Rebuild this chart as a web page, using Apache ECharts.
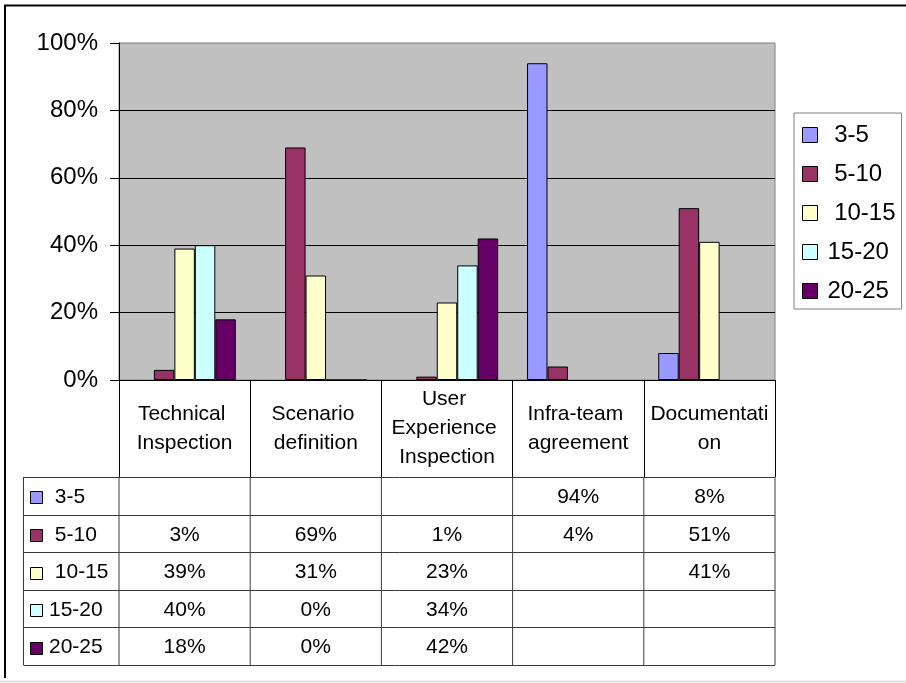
<!DOCTYPE html>
<html>
<head>
<meta charset="utf-8">
<script src="https://cdn.jsdelivr.net/npm/echarts@6/dist/echarts.min.js"></script>
<style>
  html, body { margin: 0; padding: 0; background: #fff; }
  #chart { width: 906px; height: 683px; }
</style>
</head>
<body>
<div id="chart"></div>
<script>
// Share of responses per activity, grouped by range
const categories = ['Technical Inspection', 'Scenario definition', 'User Experience Inspection', 'Infra-team agreement', 'Documentation'];
const seriesNames = [' 3-5', ' 5-10', ' 10-15', '15-20', '20-25'];
const range3to5 = [null, null, null, 94, 8];
const range5to10 = [3, 69, 1, 4, 51];
const range10to15 = [39, 31, 23, null, 41];
const range15to20 = [40, 0, 34, null, null];
const range20to25 = [18, 0, 42, null, null];
const yTicks = [0, 20, 40, 60, 80, 100];

const seriesValues = [range3to5, range5to10, range10to15, range15to20, range20to25];
const colors = ['#9999FF', '#993366', '#FFFFCC', '#CCFFFF', '#660066'];
const FONT = '"Liberation Sans", Arial, Helvetica, sans-serif';

const GRID = { left: 119, top: 43, width: 656, height: 337 };
const HEADER_H = 97;     // height of the category header row
const ROW_H = 37.6;      // height of each data row in the table
const TABLE_LEFT = 23.5;

const chart = echarts.init(document.getElementById('chart'), null, { renderer: 'canvas' });

chart.setOption({
  animation: false,
  backgroundColor: '#fff',
  color: colors,
  grid: {
    left: GRID.left, top: GRID.top, width: GRID.width, height: GRID.height,
    show: true, backgroundColor: '#C0C0C0', borderColor: '#808080', borderWidth: 1
  },
  legend: {
    orient: 'vertical', left: 794, top: 113,
    padding: [10, 6, 6, 8], itemGap: 15, itemWidth: 15, itemHeight: 15,
    backgroundColor: '#fff', borderColor: '#808080', borderWidth: 1,
    icon: 'rect',
    itemStyle: { borderColor: '#000', borderWidth: 1 },
    textStyle: { fontFamily: FONT, fontSize: 24, lineHeight: 24, color: '#000', padding: [0, 0, 0, 5] },
    data: seriesNames
  },
  xAxis: {
    type: 'category',
    data: categories,
    axisLine: { lineStyle: { color: '#000', width: 1 } },
    axisTick: { show: true, length: HEADER_H, lineStyle: { color: '#000', width: 1 } },
    axisLabel: {
      interval: 0, fontFamily: FONT, fontSize: 21, color: '#000',
      width: 128, overflow: 'break', lineHeight: 29,
      margin: HEADER_H / 2, verticalAlign: 'middle', align: 'center'
    }
  },
  yAxis: {
    type: 'value', min: yTicks[0], max: yTicks[yTicks.length - 1], interval: yTicks[1] - yTicks[0],
    axisLine: { show: true, lineStyle: { color: '#000', width: 1 } },
    axisTick: { show: true, length: 9, lineStyle: { color: '#000', width: 1 } },
    axisLabel: { formatter: '{value}%', fontFamily: FONT, fontSize: 24, color: '#000', margin: 21 },
    splitLine: { show: true, showMaxLine: false, lineStyle: { color: '#000', width: 1 } }
  },
  series: seriesNames.map((name, i) => ({
    name: name,
    type: 'bar',
    data: seriesValues[i],
    barGap: '0%',
    barCategoryGap: '22%',
    itemStyle: { color: colors[i], borderColor: '#000', borderWidth: 1 }
  }))
});

// Data table under the plot, laid out on the category axis
function buildTable() {
  const c0 = chart.convertToPixel({ xAxisIndex: 0 }, 0);
  const c1 = chart.convertToPixel({ xAxisIndex: 0 }, 1);
  const band = c1 - c0;
  const centers = categories.map((_, i) => chart.convertToPixel({ xAxisIndex: 0 }, i));
  const right = centers[centers.length - 1] + band / 2;
  const axisLeft = centers[0] - band / 2;
  const top = GRID.top + GRID.height + HEADER_H;
  const bottom = top + ROW_H * seriesNames.length;
  const lineColor = '#3a3a3a';
  const els = [];

  // horizontal rules
  for (let r = 0; r <= seriesNames.length; r++) {
    const y = Math.round(top + r * ROW_H) + 0.5;
    els.push({ type: 'line', shape: { x1: TABLE_LEFT, y1: y, x2: right, y2: y }, style: { stroke: lineColor, lineWidth: 1 } });
  }
  // vertical rules
  const xs = [TABLE_LEFT, axisLeft].concat(centers.map(c => c + band / 2));
  xs.forEach(x => {
    els.push({ type: 'line', shape: { x1: x, y1: top, x2: x, y2: bottom }, style: { stroke: lineColor, lineWidth: 1 } });
  });

  seriesNames.forEach((name, r) => {
    const cy = top + r * ROW_H + ROW_H / 2 + 1.5;
    els.push({ type: 'rect', shape: { x: 30.5, y: Math.round(cy - 6) + 0.5, width: 12, height: 12 }, style: { fill: colors[r], stroke: '#000', lineWidth: 1 } });
    els.push({ type: 'text', x: 49, y: cy, style: { text: name, font: '21px ' + FONT, fill: '#000', verticalAlign: 'middle', align: 'left' } });
    seriesValues[r].forEach((v, c) => {
      if (v === null) return;
      els.push({ type: 'text', x: centers[c], y: cy, style: { text: v + '%', font: '21px ' + FONT, fill: '#000', verticalAlign: 'middle', align: 'center' } });
    });
  });

  // chart frame
  els.push({ type: 'line', shape: { x1: 4, y1: 5.5, x2: 906, y2: 5.5 }, style: { stroke: '#000', lineWidth: 2 } });
  els.push({ type: 'line', shape: { x1: 5, y1: 5, x2: 5, y2: 678 }, style: { stroke: '#000', lineWidth: 2 } });
  els.push({ type: 'line', shape: { x1: 0, y1: 681.5, x2: 906, y2: 681.5 }, style: { stroke: '#e0e0e0', lineWidth: 2 } });

  chart.setOption({ graphic: { elements: els } });
}
buildTable();
</script>
</body>
</html>
